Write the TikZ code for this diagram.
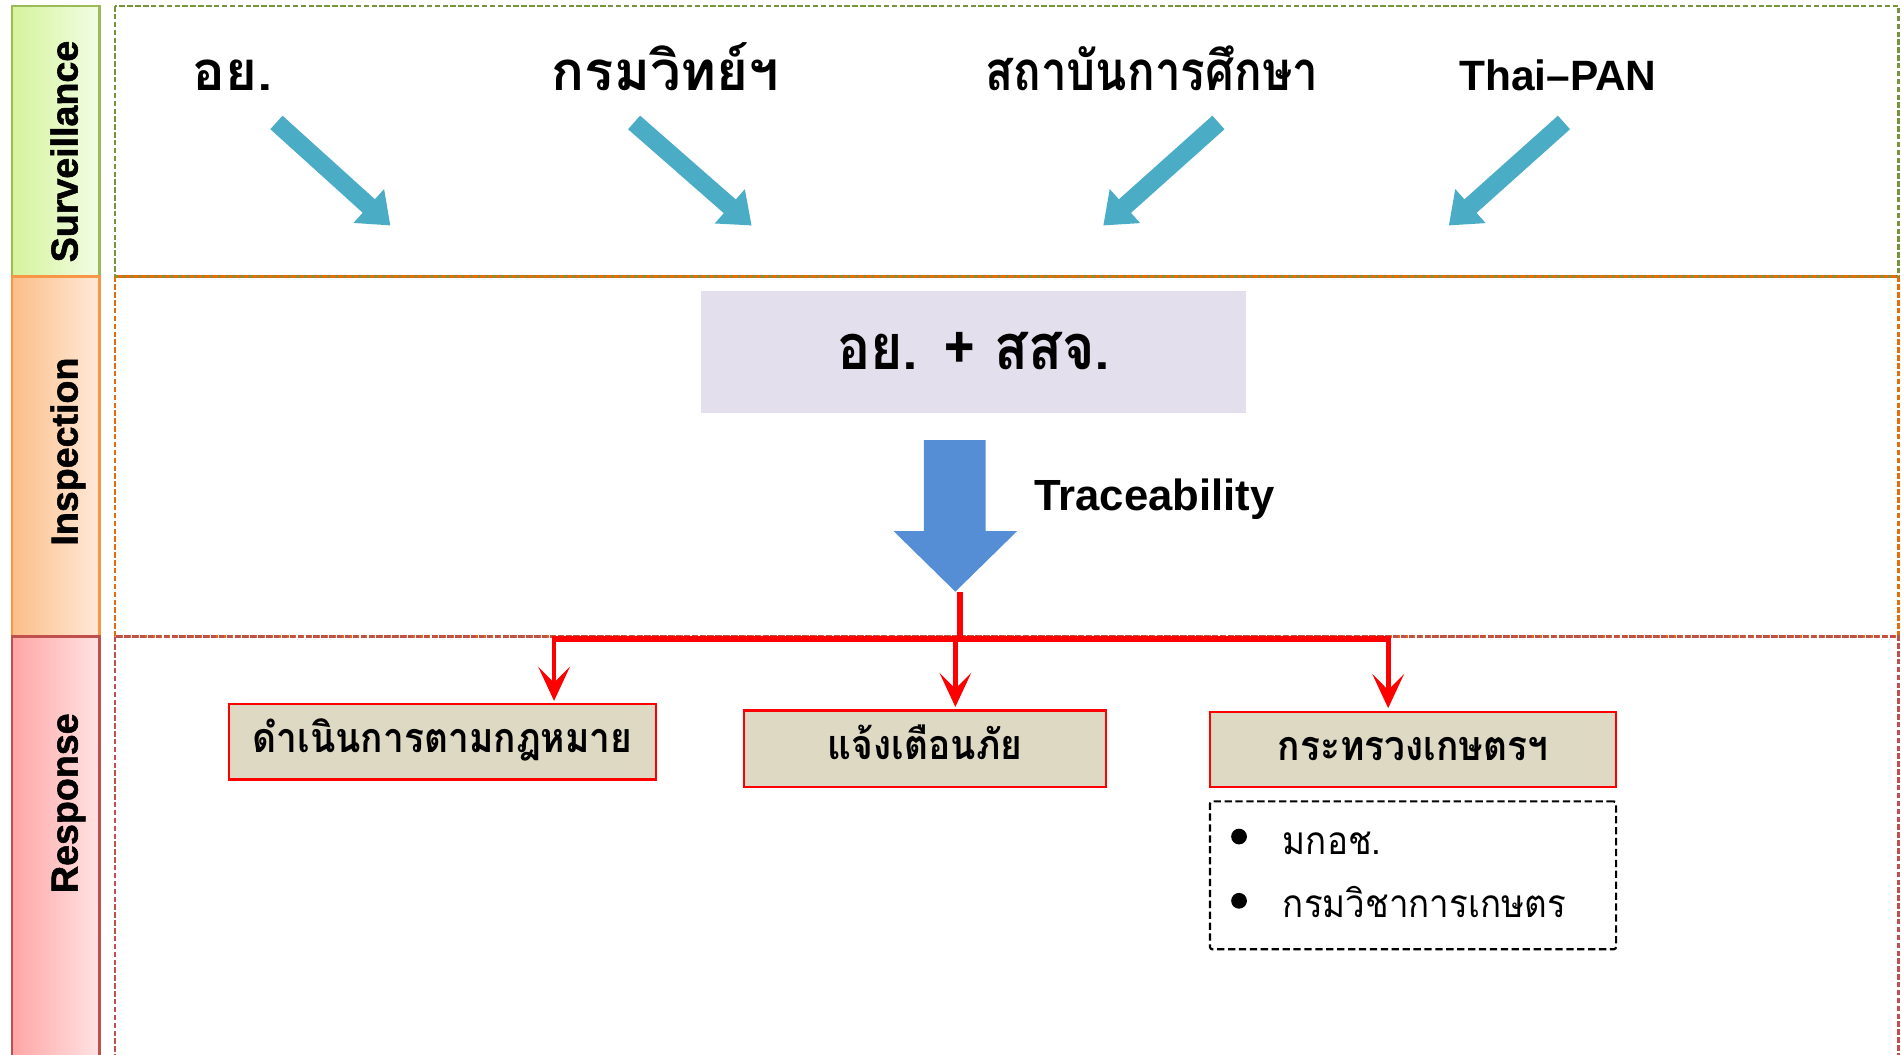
\documentclass[tikz,border=0pt]{standalone}
\usepackage{fontspec}
\setmainfont{Liberation Sans}
\newfontfamily\thai[Script=Thai]{Loma}
\newfontfamily\lanefont[BoldFeatures={FakeBold=1.5}]{Liberation Sans}
\usetikzlibrary{arrows.meta}
\definecolor{survB}{HTML}{9BBB59}
\definecolor{survD}{HTML}{77933C}
\definecolor{survL}{HTML}{D5F39C}
\definecolor{survR}{HTML}{F2FDE4}
\definecolor{inspB}{HTML}{F79646}
\definecolor{inspD}{HTML}{E46C0A}
\definecolor{inspL}{HTML}{FBBE88}
\definecolor{inspR}{HTML}{FFE9D9}
\definecolor{respB}{HTML}{C0504D}
\definecolor{respL}{HTML}{FFA5A5}
\definecolor{respR}{HTML}{FFE3E3}
\definecolor{arrowBlue}{HTML}{4BACC6}
\definecolor{blockBlue}{HTML}{558ED5}
\definecolor{lavender}{HTML}{E4DFEC}
\definecolor{khaki}{HTML}{DDD9C3}
\tikzset{
  lanelabel/.style={font=\lanefont\bfseries\fontsize{31}{33}\selectfont, rotate=90, anchor=base, inner sep=0pt},
  region/.style={line width=2pt, dash pattern=on 4.5pt off 2pt},
  srcname/.style={font=\thai\bfseries\fontsize{45}{48}\selectfont, inner sep=0pt, anchor=base},
  srcarrow/.style={draw=arrowBlue, line width=15pt, -{Triangle[length=24pt, width=36pt]}},
  respbox/.style={draw=red, line width=1.8pt, fill=khaki, inner sep=0pt, text height=24pt, text depth=6pt,
     font=\thai\bfseries\fontsize{34}{36}\selectfont\addfontfeatures{FakeStretch=0.9}},
  bullettext/.style={anchor=base west, inner sep=0pt, font=\thai\fontsize{32}{34}\selectfont\addfontfeatures{FakeStretch=0.9}},
  redline/.style={draw=red, line width=4.5pt},
  redarrow/.style={draw=red, line width=4pt, shorten >=2pt, -{Stealth[length=28pt, width=26pt, inset=13pt]}},
}
\begin{document}
\begin{tikzpicture}[x=1pt, y=-1pt]
\useasboundingbox (0,0) rectangle (1568,870);
% lane labels
\draw[draw=survB, line width=2pt, left color=survL, right color=survR] (10,5) rectangle (82,228);
\node[lanelabel] (lsurv) at (64,125) {Surveillance};
\draw[draw=inspB, line width=2pt, left color=inspL, right color=inspR] (10,228) rectangle (82,525);
\node[lanelabel] (linsp) at (64,372.5) {Inspection};
\draw[draw=respB, line width=2pt, left color=respL, right color=respR] (10,525) rectangle (82,880);
\node[lanelabel] (lresp) at (64,662.5) {Response};
% regions
\draw[region, draw=survD] (95,5) rectangle (1566,228);
\draw[region, draw=inspD] (95,228) rectangle (1566,525);
\draw[region, draw=respB] (95,525) rectangle (1566,880);
% surveillance sources
\node[srcname] (s1) at (192,75) {อย.};
\node[srcname] (s2) at (549,75) {กรมวิทย์ฯ};
\node[srcname, font=\thai\bfseries\fontsize{45}{48}\selectfont\addfontfeatures{FakeStretch=0.84}] (s3) at (950,75) {สถาบันการศึกษา};
\node[font=\bfseries\fontsize{35}{38}\selectfont, inner sep=0pt, anchor=base] (s4) at (1285,75) {Thai–PAN};
\coordinate (a1s) at (228,101); \coordinate (a1e) at (322,186);
\coordinate (a2s) at (523,101); \coordinate (a2e) at (620,186);
\coordinate (a3s) at (1005,101); \coordinate (a3e) at (910,186);
\coordinate (a4s) at (1290,101); \coordinate (a4e) at (1195,186);
\draw[srcarrow] (a1s) -- (a1e);
\draw[srcarrow] (a2s) -- (a2e);
\draw[srcarrow] (a3s) -- (a3e);
\draw[srcarrow] (a4s) -- (a4e);
% inspection
\fill[lavender] (578,240) rectangle (1028,341);
\node[anchor=base, inner sep=0pt, font=\thai\bfseries\fontsize{52}{56}\selectfont\addfontfeatures{FakeStretch=0.88}] (insp) at (803,305) {อย. + สสจ.};
\fill[blockBlue] (762,363) -- (813,363) -- (813,438) -- (839,438) -- (788,488) -- (737,438) -- (762,438) -- cycle;
\coordinate (tip) at (792,488);
\node[font=\bfseries\fontsize{36}{38}\selectfont, anchor=base west, inner sep=0pt] (trace) at (853,421) {Traceability};
% response boxes
\node[respbox, minimum width=352pt, minimum height=62pt] (r1) at (365,612) {ดำเนินการตามกฎหมาย};
\node[respbox, minimum width=298pt, minimum height=63pt] (r2) at (763,617.5) {แจ้งเตือนภัย};
\node[respbox, minimum width=335pt, minimum height=62pt] (r3) at (1165.5,618) {กระทรวงเกษตรฯ};
\node[draw, line width=1.8pt, dash pattern=on 6pt off 3pt, rounded corners=2pt, minimum width=335pt, minimum height=122pt] (sub) at (1165.5,722) {};
\fill (1022,690) circle (6.5pt);
\fill (1022,743) circle (6.5pt);
\node[bullettext] (b1) at (1058,705) {มกอช.};
\node[bullettext] (b2) at (1058,757) {กรมวิชาการเกษตร};
% red connectors
\coordinate (junc) at (792,527);
\coordinate (j1) at (457,527);
\coordinate (j2) at (788,527);
\coordinate (j3) at (1145,527);
\draw[redline] (tip) -- (junc);
\draw[redline] ([xshift=-2pt]j1) -- ([xshift=2pt]j3);
\draw[redarrow] (j1) -- (j1 |- r1.north);
\draw[redarrow] (j2) -- (j2 |- r2.north);
\draw[redarrow] (j3) -- (j3 |- r3.north);
\end{tikzpicture}
\end{document}
